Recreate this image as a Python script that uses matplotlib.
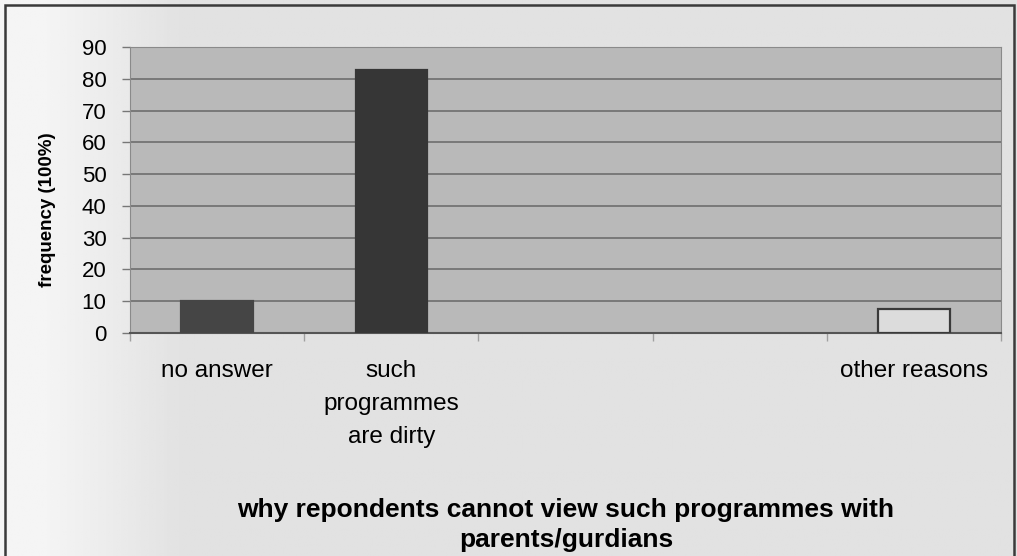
import matplotlib
matplotlib.use("Agg")
import matplotlib.pyplot as plt
from matplotlib.patches import Rectangle
import numpy as np

plt.rcParams['font.family'] = ['Liberation Sans', 'DejaVu Sans']

# categories on the x axis (two empty slots between the bars)
categories = ["no answer", "such\nprogrammes\nare dirty", "", "", "other reasons"]
values = [10, 82.7, 0, 0, 7.7]
bar_faces = ["#454545", "#363636", "none", "none", "#dcdcdc"]
bar_edges = ["#454545", "#363636", "none", "none", "#3a3a3a"]
yticks = [0, 10, 20, 30, 40, 50, 60, 70, 80, 90]

fig = plt.figure(figsize=(10.17, 5.56), dpi=100)
fig.patch.set_facecolor("#e2e2e2")

# paper background, a little lighter towards the left edge
bg = fig.add_axes([0, 0, 1, 1], zorder=-10)
grad = np.linspace(0, 1, 400)
shade = 0.96 - 0.075 * np.clip((grad - 0.04) / 0.14, 0, 1)
bg.imshow(np.tile(shade, (10, 1)), cmap="gray", vmin=0, vmax=1,
          aspect="auto", extent=[0, 1, 0, 1])
bg.set_axis_off()

ax = fig.add_axes([130 / 1017, 1 - 333 / 556, 871 / 1017, 286 / 556])
ax.set_facecolor("#b9b9b9")

x = np.arange(len(categories))
for xi, v, fc, ec in zip(x, values, bar_faces, bar_edges):
    if v > 0:
        ax.bar(xi, v, width=0.41, color=fc, edgecolor=ec, linewidth=1.6, zorder=3)

ax.set_xlim(-0.5, len(categories) - 0.5)
ax.set_ylim(0, 90)
ax.set_yticks(yticks)
ax.yaxis.grid(True, color="#6e6e6e", linewidth=1.2, zorder=1)
ax.set_axisbelow(True)

# category boundaries carry the x ticks; names sit in the middle
ax.set_xticks(np.arange(len(categories) + 1) - 0.5)
ax.set_xticklabels([])
ax.tick_params(axis="x", length=6, color="#a0a0a0", width=1)
ax.tick_params(axis="y", length=6, color="#777777", width=1, labelsize=16, pad=11)
for xi, name in zip(x, categories):
    ax.text(xi, -8.5, name, ha="center", va="top", fontsize=17.5,
            linespacing=1.65, transform=ax.transData, clip_on=False)

for side in ["top", "left", "right"]:
    ax.spines[side].set_color("#8a8a8a")
ax.spines["bottom"].set_color("#555555")
ax.spines["bottom"].set_linewidth(1.5)

ax.set_ylabel("frequency (100%)", fontsize=13.5, fontweight="bold")
ax.yaxis.set_label_coords(-0.085, 0.43)
fig.text(566 / 1017, 1 - 525 / 556,
         "why repondents cannot view such programmes with\nparents/gurdians",
         ha="center", va="center", fontsize=19, fontweight="bold", linespacing=1.35)

# outer frame of the chart area
fig.patches.append(Rectangle((5 / 1017, -0.02), 1009 / 1017, 1 - 5 / 556 + 0.02,
                             transform=fig.transFigure, fill=False,
                             edgecolor="#3a3a3a", linewidth=1.8))

fig.savefig("out.png", dpi=100, facecolor=fig.get_facecolor())
